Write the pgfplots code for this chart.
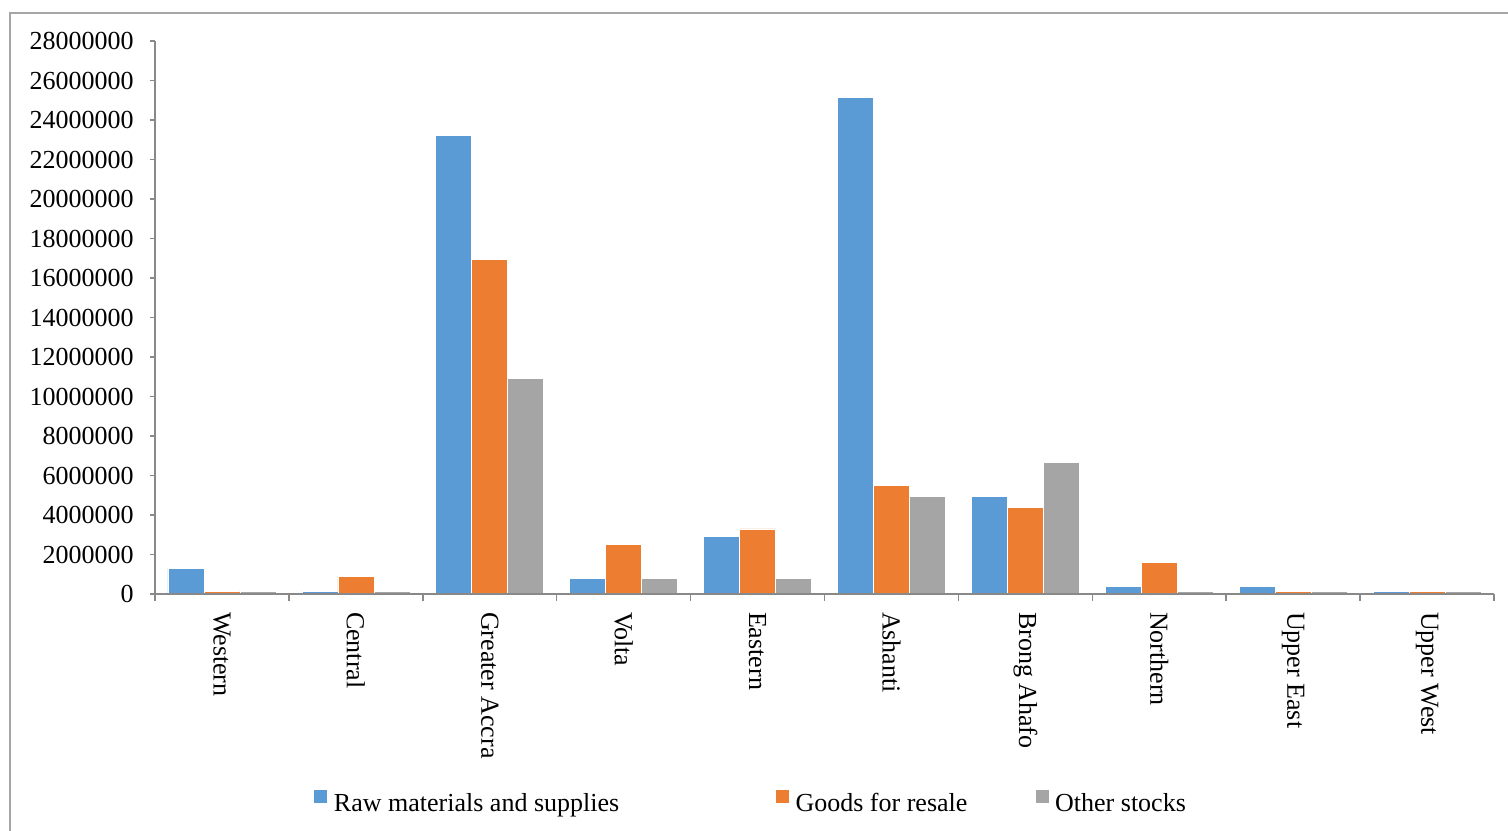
\documentclass[border=0pt]{standalone}
\usepackage{pgfplots}
\pgfplotsset{compat=1.18}
\usepackage{fontspec}
\setmainfont{Liberation Serif}
\definecolor{cblue}{HTML}{5B9BD5}
\definecolor{corange}{HTML}{ED7D31}
\definecolor{cgray}{HTML}{A5A5A5}
\definecolor{axgray}{HTML}{898989}
\definecolor{framegray}{HTML}{A6A6A6}
\newcommand{\lf}{\fontsize{13}{15.6}\selectfont}
\begin{document}
\begin{tikzpicture}
\clip (0,0) rectangle (754pt,415pt);
\fill[white] (0,0) rectangle (754pt,415pt);
\draw[framegray, line width=0.75pt] (5pt,-20pt) rectangle (790pt,408.5pt);
\begin{axis}[
  at={(77.5pt,118pt)}, anchor=south west,
  scale only axis, width=669.5pt, height=276.5pt,
  xmin=-0.5, xmax=9.5, ymin=0, ymax=28000000,
  axis x line=bottom, axis y line=left,
  axis line style={-, axgray, line width=0.75pt},
  axis on top,
  ytick distance=2000000,
  scaled y ticks=false,
  yticklabel style={/pgf/number format/fixed, /pgf/number format/1000 sep={}, /pgf/number format/assume math mode=true, font=\lf},
  yticklabel shift=4.7pt,
  xtick={0,...,9},
  xticklabels={Western,Central,Greater Accra,Volta,Eastern,Ashanti,Brong Ahafo,Northern,Upper East,Upper West},
  xticklabel style={rotate=-90, anchor=west, font=\lf},
  xticklabel shift=3pt,
  minor xtick={-0.5,0.5,...,9.5},
  tick align=outside,
  tick style={axgray, line width=0.75pt},
  major x tick style={draw=none},
  major tick length=2.5pt,
  minor tick length=3.5pt,
  xtick pos=bottom, ytick pos=left,
  legend columns=3,
  legend style={at={(0.118,-0.376)}, anchor=west, draw=none, fill=none, inner sep=0pt,
    font=\lf, nodes={inner sep=0pt},
    /tikz/every odd column/.append style={column sep=3pt}},
  legend image code/.code={\fill[#1] (0pt,0pt) rectangle (7pt,7pt);},
  legend cell align=left,
]
\addplot[ybar, bar width=0.2687, bar shift=-0.2687, fill=cblue, draw=white, line width=0.3pt] coordinates {
(0,1300000) (1,150000) (2,23200000) (3,800000) (4,2900000) (5,25150000) (6,4950000) (7,400000) (8,400000) (9,150000)};
\addlegendentry{\makebox[220.5pt][l]{Raw materials and supplies}}
\addplot[ybar, bar width=0.2687, bar shift=0, fill=corange, draw=white, line width=0.3pt] coordinates {
(0,150000) (1,900000) (2,16950000) (3,2500000) (4,3300000) (5,5500000) (6,4400000) (7,1600000) (8,150000) (9,150000)};
\addlegendentry{\makebox[119.5pt][l]{Goods for resale}}
\addplot[ybar, bar width=0.2687, bar shift=0.2687, fill=cgray, draw=white, line width=0.3pt] coordinates {
(0,150000) (1,150000) (2,10900000) (3,800000) (4,800000) (5,4950000) (6,6650000) (7,150000) (8,150000) (9,150000)};
\addlegendentry{Other stocks}
\end{axis}
\end{tikzpicture}
\end{document}
